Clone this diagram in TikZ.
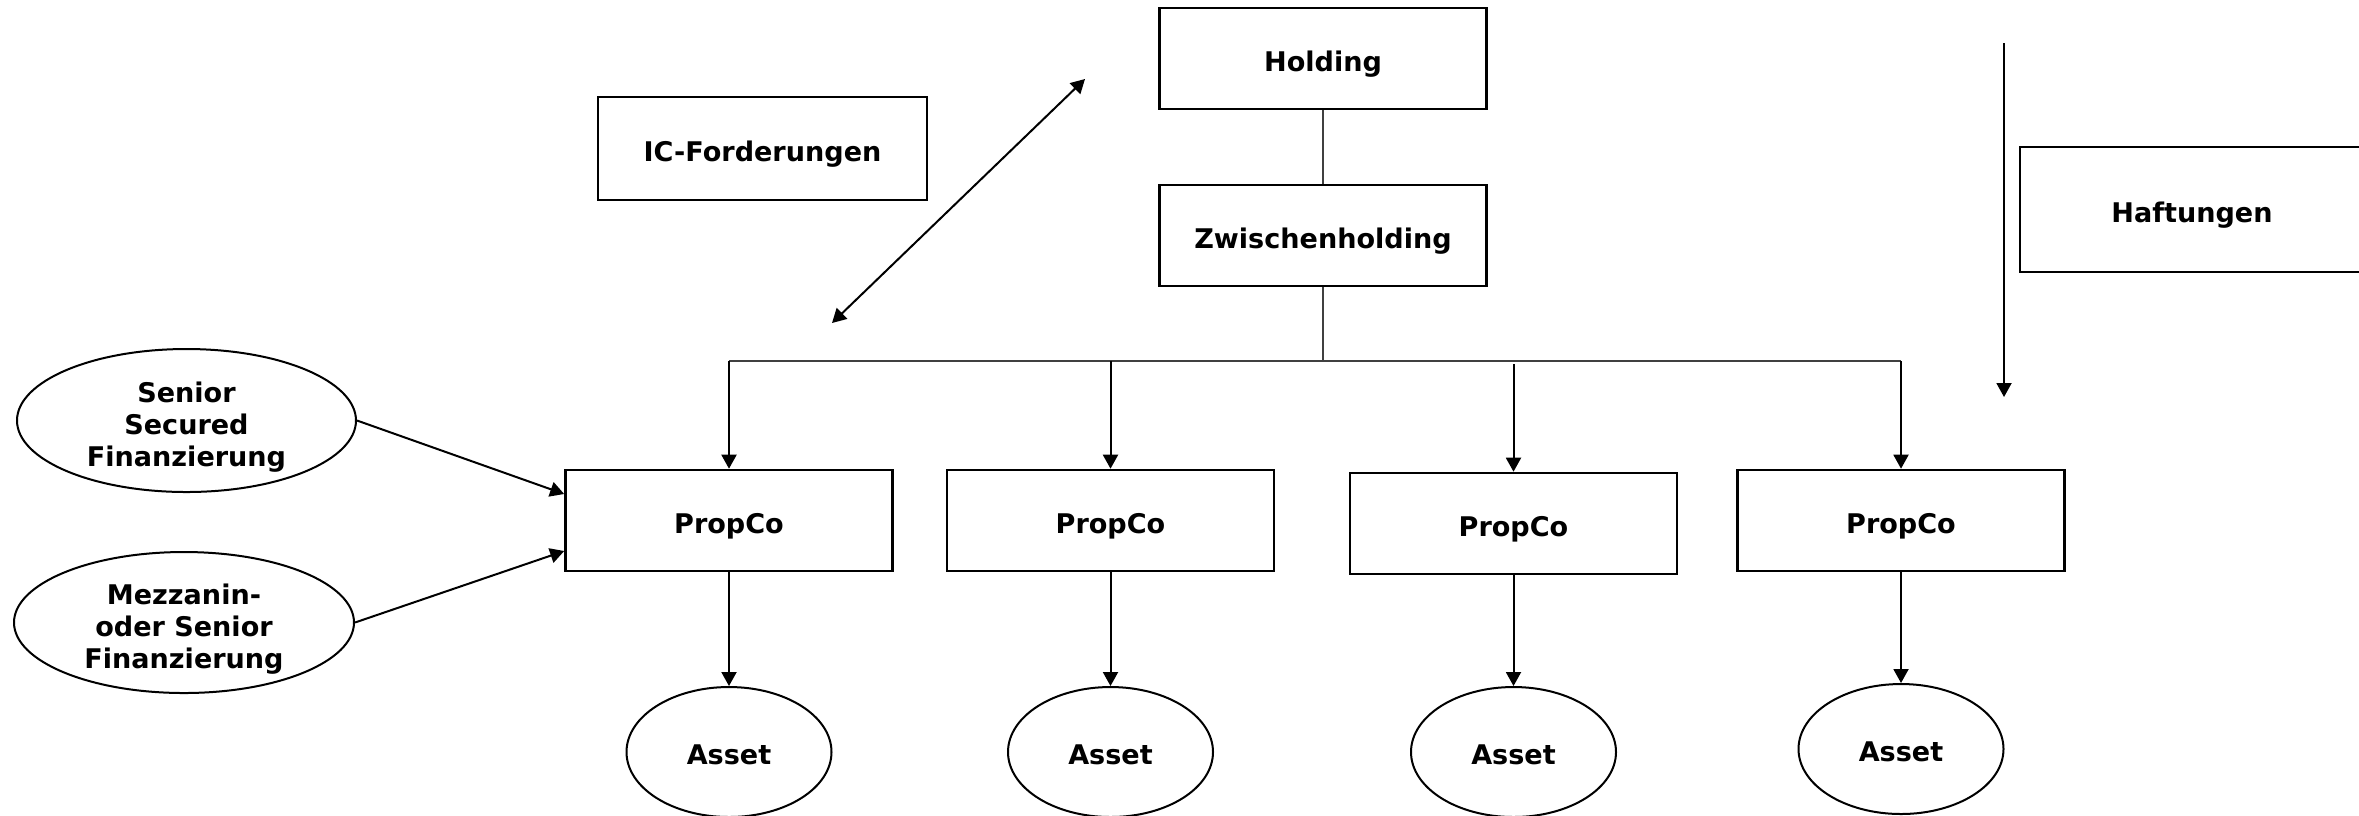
\documentclass[tikz,border=0pt]{standalone}
\usepackage{fontspec}
\setmainfont{DejaVu Sans}
\usetikzlibrary{arrows.meta,shapes.geometric}
\begin{document}
\begin{tikzpicture}[x=0.1mm,y=-0.1mm,
  every node/.style={font=\bfseries\fontsize{7.7pt}{9.1pt}\selectfont, align=center},
  box/.style={draw, line width=0.26mm, minimum width=32.7mm, minimum height=10.1mm, inner sep=0pt, text height=7.3pt, text depth=0pt},
  oval/.style={draw, ellipse, line width=0.2mm, inner sep=0pt},
  oneline/.style={text height=7.3pt, text depth=0pt},
  threeline/.style={text height=25.9pt, text depth=0pt},
  thinline/.style={draw=black!75, line width=0.13mm},
  arr/.style={line width=0.2mm, -{Triangle[length=1.4mm,width=1.5mm]}},
  darr/.style={line width=0.2mm, {Triangle[length=1.4mm,width=1.5mm]}-{Triangle[length=1.4mm,width=1.5mm]}}
]
\useasboundingbox (0,0) rectangle (2359,815);
\clip (0,0) rectangle (2359,815);
% boxes
\node[box] (hold) at (1323,58.5) {Holding};
\node[box] (zw) at (1323,235.5) {Zwischenholding};
\node[box, minimum width=32.9mm, minimum height=10.3mm] (ic) at (762.5,148.5) {IC-Forderungen};
\node[box, minimum width=34.4mm, minimum height=12.5mm] (haft) at (2192,209.5) {Haftungen};
\node[box] (p1) at (729,520.5) {PropCo};
\node[box] (p2) at (1110.5,520.5) {PropCo};
\node[box] (p3) at (1513.5,523.5) {PropCo};
\node[box] (p4) at (1901,520.5) {PropCo};
% assets
\node[oval, oneline, minimum width=20.5mm, minimum height=13mm] (a1) at (729,752) {Asset};
\node[oval, oneline, minimum width=20.5mm, minimum height=13mm] (a2) at (1110.5,752) {Asset};
\node[oval, oneline, minimum width=20.5mm, minimum height=13mm] (a3) at (1513.5,752) {Asset};
\node[oval, oneline, minimum width=20.5mm, minimum height=13mm] (a4) at (1901,749) {Asset};
% financing ellipses
\node[oval, threeline, minimum width=33.9mm, minimum height=14.3mm] (sen) at (186.5,420.5) {Senior\\Secured\\Finanzierung};
\node[oval, threeline, minimum width=34mm, minimum height=14.1mm] (mez) at (184,622.5) {Mezzanin-\\oder Senior\\Finanzierung};
% tree
\coordinate (busL) at (729,361);
\coordinate (busR) at (1901,361);
\draw[thinline] (hold.south) -- (zw.north);
\draw[thinline] (zw.south) -- (zw.south |- busL);
\draw[thinline] (busL) -- (busR);
\draw[arr] (p1.north |- busL) -- (p1.north);
\draw[arr] (p2.north |- busL) -- (p2.north);
\draw[arr] ([yshift=-0.3mm]p3.north |- busL) -- (p3.north);
\draw[arr] (p4.north |- busL) -- (p4.north);
\draw[arr] (p1.south) -- (a1.north);
\draw[arr] (p2.south) -- (a2.north);
\draw[arr] (p3.south) -- (a3.north);
\draw[arr] (p4.south) -- (a4.north);
% financing arrows
\draw[arr] (sen.east) -- ([yshift=2.65mm]p1.west);
\draw[arr] (mez.east) -- ([yshift=-3.05mm]p1.west);
% IC arrow
\coordinate (icA) at (832,323);
\coordinate (icB) at (1085,79);
\draw[darr] (icA) -- (icB);
% Haftungen arrow
\coordinate (hA) at (2004,43);
\coordinate (hB) at (2004,397);
\draw[arr] (hA) -- (hB);
\end{tikzpicture}
\end{document}
